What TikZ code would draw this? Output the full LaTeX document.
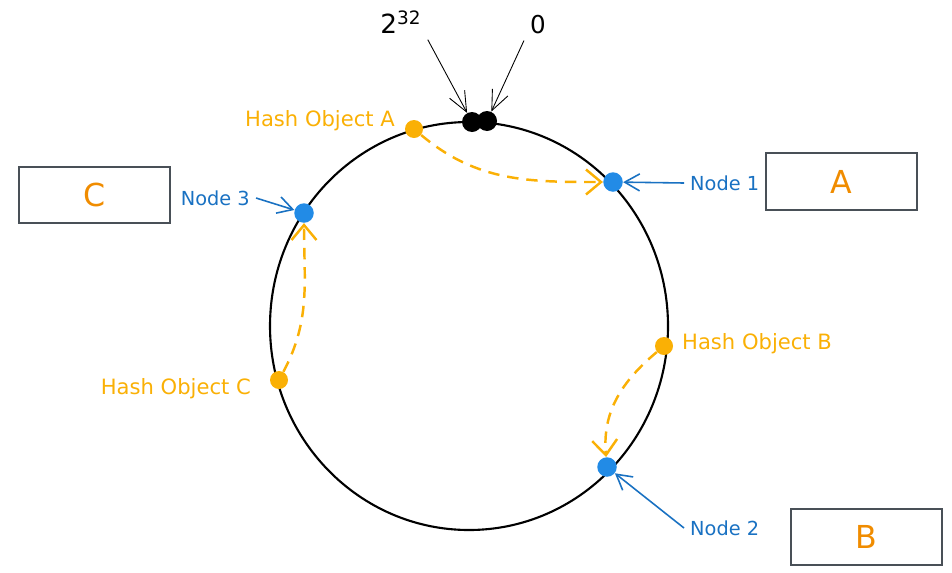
\documentclass[tikz,border=0pt]{standalone}
\usepackage{fontspec}
\setmainfont{DejaVu Sans}
\usetikzlibrary{arrows.meta}
\definecolor{dotblue}{HTML}{228BE6}
\definecolor{labelblue}{HTML}{1971C2}
\definecolor{hashorange}{HTML}{FAB005}
\definecolor{boxorange}{HTML}{F08C00}
\definecolor{boxgray}{HTML}{495057}
\begin{document}
\begin{tikzpicture}[x=0.02cm, y=-0.02cm,
  dot/.style={circle, fill, inner sep=0pt, minimum size=0.39cm},
  server/.style={draw=boxgray, line width=1.2pt, minimum width=3.02cm,
    minimum height=1.13cm, text=boxorange, font=\fontsize{18}{20}\selectfont},
  hashlabel/.style={text=hashorange, font=\fontsize{12}{14}\selectfont},
  nodelabel/.style={text=labelblue, font=\fontsize{11}{13}\selectfont},
  pointer/.style={-{Straight Barb[length=0.3cm, width=0.34cm]}, labelblue, line width=0.9pt},
  move/.style={hashorange, line width=1.4pt, dash pattern=on 6.5pt off 4.5pt,
    -{Straight Barb[length=0.3cm, width=0.5cm]}}]
  \useasboundingbox (0,0) rectangle (952,572);

  % Ring
  \draw[line width=1.2pt] (469,326) ellipse [x radius=199, y radius=204];

  % Servers
  \node[server] (srvA) at (841.5,181.5) {A};
  \node[server] (srvC) at (94.5,195) {C};
  \node[server] (srvB) at (866.5,537) {B};

  % Start and end of the ring
  \node[dot, black, minimum size=0.4cm] (maxdot) at (472,122) {};
  \node[dot, black, minimum size=0.4cm] (zerodot) at (487,121) {};
  \node[font=\fontsize{15}{17}\selectfont] (maxlabel) at (401,22) {2\textsuperscript{32}};
  \node[font=\fontsize{14}{16}\selectfont] (zerolabel) at (538,25) {0};
  \draw[-{Straight Barb[length=0.4cm, width=0.34cm]}, line width=0.5pt] (maxlabel.south east) -- (maxdot);
  \draw[-{Straight Barb[length=0.4cm, width=0.34cm]}, line width=0.5pt] (zerolabel.south west) -- (zerodot);

  % Nodes on the ring
  \node[dot, dotblue] (n1) at (613,182) {};
  \node[dot, dotblue] (n2) at (607,467) {};
  \node[dot, dotblue] (n3) at (304,213) {};
  \node[nodelabel, anchor=west] (n1label) at (684,183) {Node 1};
  \node[nodelabel, anchor=west] (n2label) at (684,528) {Node 2};
  \node[nodelabel, anchor=east] (n3label) at (256,198) {Node 3};
  \draw[pointer] (n1label.west) -- (n1);
  \draw[pointer] (n2label.west) -- (n2);
  \draw[pointer] (n3label.east) -- (n3);

  % Hashed objects
  \node[dot, hashorange, minimum size=0.36cm] (hoa) at (414,129) {};
  \node[dot, hashorange, minimum size=0.36cm] (hob) at (664,346) {};
  \node[dot, hashorange, minimum size=0.36cm] (hoc) at (279,380) {};
  \node[hashlabel, anchor=east] (hoalabel) at (401,121) {Hash Object A};
  \node[hashlabel, anchor=west] (hoblabel) at (676,344) {Hash Object B};
  \node[hashlabel, anchor=east] (hoclabel) at (257,389) {Hash Object C};
  \draw[move] (hoa) to[out=-40, in=180] (n1);
  \draw[move] (hob) to[out=-140, in=95] (n2);
  \draw[move] (hoc) to[out=62, in=-90] (n3);
\end{tikzpicture}
\end{document}
